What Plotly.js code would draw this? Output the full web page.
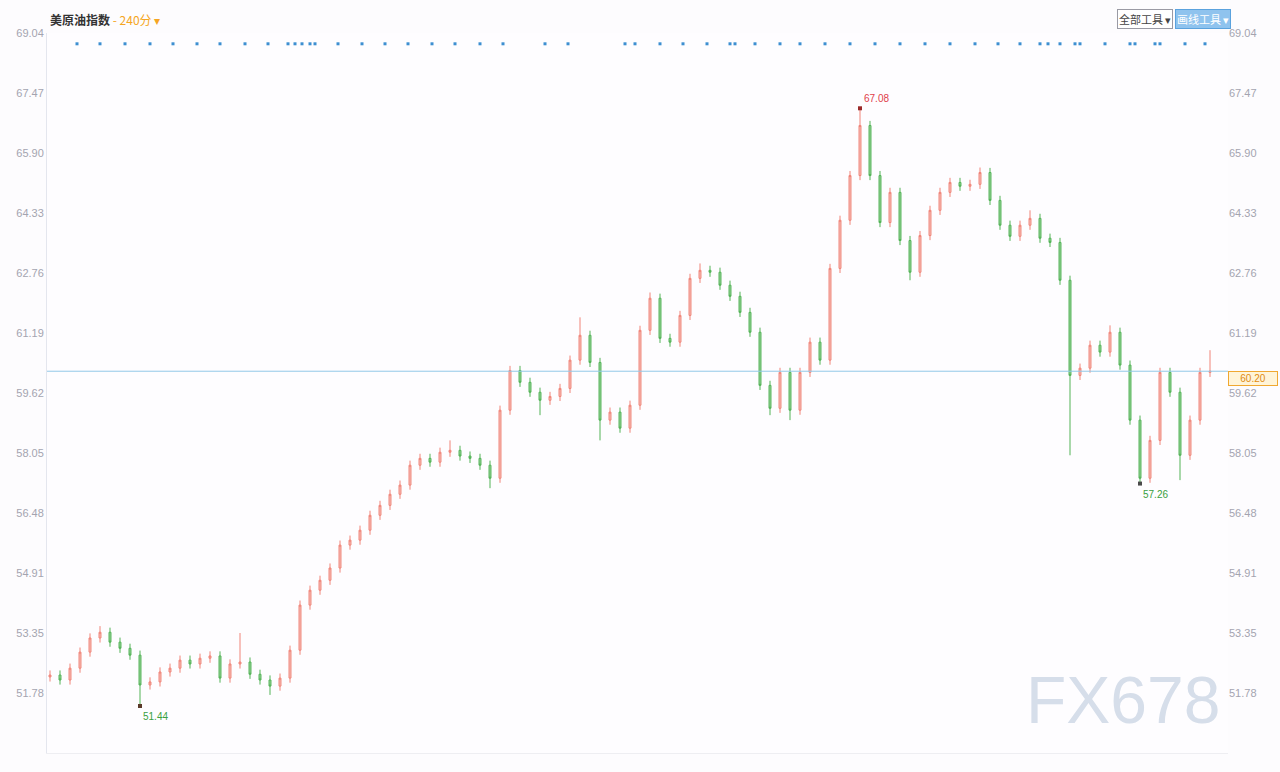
<!DOCTYPE html>
<html>
<head>
<meta charset="utf-8">
<script src="https://cdn.plot.ly/plotly-3.0.1.min.js"></script>
<style>
  html, body { margin: 0; padding: 0; background: #fdfcfe; }
  #chart { width: 1280px; height: 772px; }
</style>
</head>
<body>
<div id="chart"></div>
<script>
// ---- data ----
const chartTitle = '美原油指数';
const periodLabel = '- 240分 ▾';

const opens = [52.20,52.25,52.12,52.43,52.85,53.22,53.37,53.11,52.95,52.77,
  51.99,52.07,52.33,52.43,52.64,52.54,52.69,52.75,52.17,52.54,
  52.59,52.27,52.12,51.96,52.17,52.90,54.08,54.47,54.73,55.05,
  55.65,55.78,56.04,56.43,56.69,56.98,57.22,57.74,57.92,57.82,
  58.08,58.13,57.98,57.92,57.74,57.40,59.18,60.22,59.91,59.65,
  59.44,59.54,59.75,60.49,61.14,60.43,58.92,59.13,58.71,59.31,
  61.27,62.11,61.06,60.96,61.66,62.63,62.84,62.79,62.45,62.16,
  61.74,61.22,59.83,59.23,60.17,59.18,60.17,60.96,60.49,62.89,
  64.15,65.32,66.63,65.32,64.09,64.88,63.62,62.79,63.75,64.41,
  64.88,65.14,65.04,65.09,65.40,64.67,64.02,63.73,64.02,64.20,
  63.68,63.57,62.58,60.09,60.28,60.88,60.70,61.22,60.36,58.92,
  57.40,58.39,60.17,59.65,58.00,58.92,60.17];
const closes = [52.25,52.12,52.43,52.85,53.22,53.37,53.11,52.95,52.77,51.99,
  52.07,52.33,52.43,52.64,52.54,52.69,52.75,52.17,52.54,52.59,
  52.27,52.12,51.96,52.17,52.90,54.08,54.47,54.73,55.05,55.65,
  55.78,56.04,56.43,56.69,56.98,57.22,57.74,57.92,57.82,58.08,
  58.13,57.98,57.92,57.74,57.40,59.18,60.22,59.91,59.65,59.44,
  59.54,59.75,60.49,61.14,60.43,58.92,59.13,58.71,59.31,61.27,
  62.11,61.06,60.96,61.66,62.63,62.84,62.79,62.45,62.16,61.74,
  61.22,59.83,59.23,60.17,59.18,60.17,60.96,60.49,62.89,64.15,
  65.32,66.63,65.32,64.09,64.88,63.62,62.79,63.75,64.41,64.88,
  65.14,65.04,65.09,65.40,64.67,64.02,63.73,64.02,64.20,63.68,
  63.57,62.58,60.09,60.28,60.88,60.70,61.22,60.36,58.92,57.40,
  58.39,60.17,59.65,58.00,58.92,60.17,60.20];
const highs = [52.37,52.37,52.55,52.97,53.34,53.53,53.49,53.23,53.07,52.89,
  52.19,52.45,52.55,52.76,52.76,52.81,52.87,52.87,52.66,53.35,
  52.71,52.39,52.24,52.29,53.02,54.20,54.59,54.85,55.17,55.77,
  55.90,56.16,56.55,56.81,57.10,57.34,57.86,58.04,58.04,58.20,
  58.39,58.25,58.10,58.04,57.86,59.30,60.34,60.34,60.03,59.77,
  59.66,59.87,60.61,61.61,61.26,60.55,59.25,59.25,59.43,61.39,
  62.26,62.23,61.18,61.78,62.75,63.02,62.96,62.91,62.57,62.28,
  61.86,61.34,59.95,60.29,60.29,60.29,61.08,61.08,63.01,64.27,
  65.44,67.08,66.75,65.44,65.00,65.00,63.74,63.87,64.53,65.00,
  65.26,65.26,65.21,65.53,65.52,64.79,64.14,64.14,64.41,64.32,
  63.80,63.69,62.70,60.40,61.00,61.00,61.40,61.34,60.48,59.04,
  58.51,60.29,60.29,59.77,59.04,60.29,60.75];
const lows = [52.08,52.00,52.00,52.31,52.73,53.10,52.99,52.83,52.65,51.44,
  51.87,51.95,52.21,52.31,52.42,52.42,52.57,52.05,52.05,52.42,
  52.15,52.00,51.73,51.84,52.05,52.78,53.96,54.35,54.61,54.93,
  55.53,55.66,55.92,56.31,56.57,56.86,57.10,57.62,57.70,57.70,
  57.96,57.86,57.80,57.62,57.14,57.28,59.06,59.79,59.53,59.05,
  59.32,59.42,59.63,60.37,60.31,58.39,58.80,58.59,58.59,59.19,
  61.15,60.94,60.84,60.84,61.54,62.51,62.67,62.33,62.04,61.62,
  61.10,59.71,59.05,59.11,58.92,59.06,60.05,60.37,60.37,62.77,
  64.03,65.20,65.20,63.97,63.97,63.50,62.58,62.67,63.63,64.29,
  64.76,64.92,64.92,64.97,64.55,63.90,63.61,63.61,63.90,63.56,
  63.45,62.46,58.00,59.97,60.16,60.58,60.58,60.24,58.80,57.26,
  57.28,58.27,59.53,57.35,57.88,58.80,60.05];

// event marker positions along the top strip (bar index)
const eventIdx = [2.7,5,7.5,10,12.3,14.7,17,19.5,21.8,23.8,24.5,25.2,26,26.5,28.8,31.2,
  33.5,35.8,38.2,40.5,43,45.3,49.5,51.8,57.5,58.5,61,63.3,65.7,68,68.5,70.5,73,75,77.5,
  80,82.5,85,87.5,90,92.5,94.8,97,99,99.8,101,102.5,103,105.5,108,108.5,110.5,111,113.5,115.5];

// axis tick values (both sides)
const tickVals = [69.04,67.47,65.90,64.33,62.76,61.19,59.62,58.05,56.48,54.91,53.35,51.78];
const tickText = tickVals.map(v => v.toFixed(2));

const bars = closes.map((_, i) => i);

// ---- extremes from the data ----
let hiI = 0, loI = 0;
highs.forEach((v, i) => { if (v > highs[hiI]) hiI = i; });
lows.forEach((v, i) => { if (v < lows[loI]) loI = i; });
let lo2I = 100;
for (let i = 100; i < lows.length; i++) if (lows[i] < lows[lo2I]) lo2I = i;
const lastClose = closes[closes.length - 1];

const traces = [
  {
    type: 'candlestick', x: bars, open: opens, high: highs, low: lows, close: closes,
    increasing: { line: { color: '#f08478', width: 1 }, fillcolor: 'rgba(244,166,156,0.7)' },
    decreasing: { line: { color: '#52b356', width: 1 }, fillcolor: 'rgba(110,190,110,0.7)' },
    whiskerwidth: 0, hoverinfo: 'skip', showlegend: false
  },
  {
    type: 'scatter', mode: 'markers',
    x: [hiI, loI, lo2I], y: [highs[hiI], lows[loI], lows[lo2I]],
    marker: { symbol: 'square', size: 4, color: ['#9a2a2a', '#5a3a2a', '#4a4a4a'] },
    hoverinfo: 'skip', showlegend: false
  },
  {
    type: 'scatter', mode: 'markers', x: eventIdx, y: eventIdx.map(() => 0.985), yaxis: 'y3',
    marker: { symbol: 'square', size: 3, color: '#3d8fd1' },
    hoverinfo: 'skip', showlegend: false
  },
  {
    type: 'scatter', mode: 'markers', x: [bars[0]], y: [closes[0]], yaxis: 'y2',
    marker: { opacity: 0 }, hoverinfo: 'skip', showlegend: false
  }
];

const yRange = [50.21, 69.05];
const tickFont = { family: 'Liberation Sans, Arial, sans-serif', size: 11, color: '#a4a4b0' };

const layout = {
  width: 1280, height: 772,
  margin: { l: 47, r: 52, t: 33, b: 19 },
  paper_bgcolor: '#fdfcfe', plot_bgcolor: '#fefdff',
  boxgap: 0.72,
  showlegend: false,
  xaxis: {
    range: [-0.3, 117.8], rangeslider: { visible: false },
    showgrid: false, zeroline: false, showticklabels: false, ticks: '',
    showline: true, linecolor: '#eeeef2', mirror: false
  },
  yaxis: {
    range: yRange, tickvals: tickVals, ticktext: tickText, tickfont: tickFont,
    showgrid: false, zeroline: false, ticks: '', showline: true, linecolor: '#e4e6ee'
  },
  yaxis2: {
    range: yRange, overlaying: 'y', side: 'right', tickvals: tickVals, ticktext: tickText,
    tickfont: tickFont, showgrid: false, zeroline: false, ticks: '', showline: false
  },
  yaxis3: { range: [0, 1], overlaying: 'y', visible: false },
  shapes: [
    { type: 'line', xref: 'paper', x0: 0, x1: 1, yref: 'y', y0: lastClose, y1: lastClose,
      line: { color: '#92c8e8', width: 1 } }
  ],
  annotations: [
    { xref: 'paper', yref: 'paper', x: 0.001, y: 1.019, xanchor: 'left', yanchor: 'middle',
      showarrow: false,
      text: '<b>' + chartTitle + '</b> <span style="color:#f5a623">' + periodLabel + '</span>',
      font: { family: 'Noto Sans CJK SC, sans-serif', size: 12, color: '#333' } },
    { xref: 'paper', yref: 'paper', x: 0.930, y: 1.019, xanchor: 'center', yanchor: 'middle',
      showarrow: false, text: '全部工具 ▾', bgcolor: '#ffffff', bordercolor: '#9a9aa4', borderwidth: 1,
      borderpad: 1, font: { family: 'Noto Sans CJK SC, sans-serif', size: 11, color: '#444' } },
    { xref: 'paper', yref: 'paper', x: 0.979, y: 1.019, xanchor: 'center', yanchor: 'middle',
      showarrow: false, text: '画线工具 ▾', bgcolor: '#8fc3ee', bordercolor: '#5aa2de', borderwidth: 1,
      borderpad: 1, font: { family: 'Noto Sans CJK SC, sans-serif', size: 11, color: '#ffffff' } },
    { x: hiI, y: highs[hiI], xref: 'x', yref: 'y', showarrow: false, xanchor: 'left', yanchor: 'bottom',
      xshift: 2, yshift: 2, text: highs[hiI].toFixed(2),
      font: { family: 'Liberation Sans, Arial, sans-serif', size: 10, color: '#e0404a' } },
    { x: loI, y: lows[loI], xref: 'x', yref: 'y', showarrow: false, xanchor: 'left', yanchor: 'top',
      xshift: 1, yshift: -3, text: lows[loI].toFixed(2),
      font: { family: 'Liberation Sans, Arial, sans-serif', size: 10, color: '#3aa040' } },
    { x: lo2I, y: lows[lo2I], xref: 'x', yref: 'y', showarrow: false, xanchor: 'left', yanchor: 'top',
      xshift: 1, yshift: -3, text: lows[lo2I].toFixed(2),
      font: { family: 'Liberation Sans, Arial, sans-serif', size: 10, color: '#3aa040' } },
    { xref: 'paper', x: 1.0, yref: 'y', y: lastClose, xanchor: 'left', yanchor: 'top',
      showarrow: false, text: lastClose.toFixed(2), bgcolor: '#fff4d8', bordercolor: '#f0a830',
      borderwidth: 1, borderpad: 1, width: 46,
      font: { family: 'Liberation Sans, Arial, sans-serif', size: 10, color: '#e08a10' } },
    { xref: 'paper', yref: 'paper', x: 0.911, y: 0.074, xanchor: 'center', yanchor: 'middle',
      showarrow: false, text: 'FX678',
      font: { family: 'Liberation Sans, Arial, sans-serif', size: 66, color: '#d6deea' } }
  ]
};

Plotly.newPlot('chart', traces, layout, { displayModeBar: false, staticPlot: true });
</script>
</body>
</html>
